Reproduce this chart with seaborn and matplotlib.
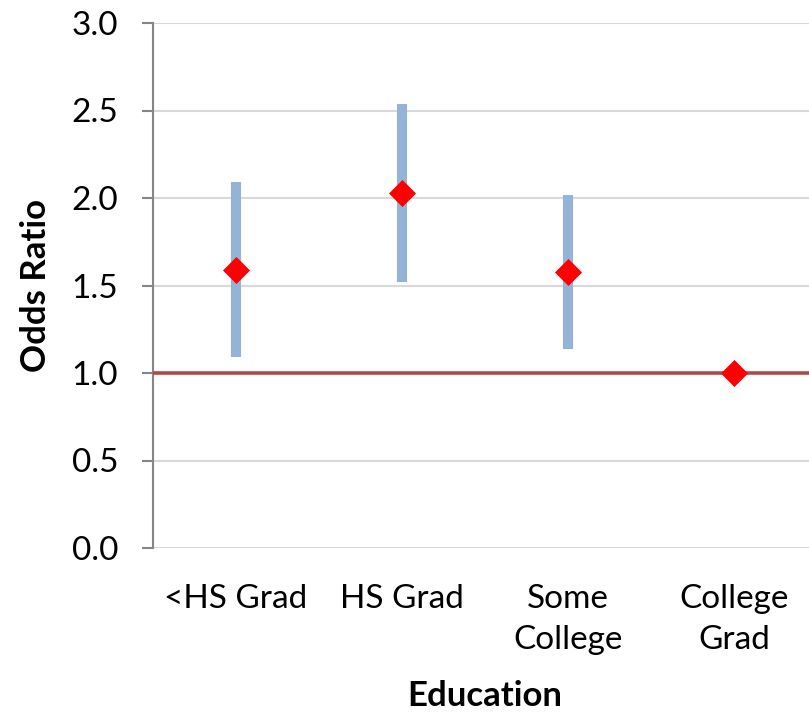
import matplotlib
matplotlib.use("Agg")
import matplotlib.pyplot as plt
import seaborn as sns
import pandas as pd

# Odds ratios by education level, with 95% confidence limits
categories = ["<HS Grad", "HS Grad", "Some\nCollege", "College\nGrad"]
odds_ratio = [1.59, 2.03, 1.58, 1.00]
ci_lower = [1.09, 1.52, 1.14, 1.00]
ci_upper = [2.09, 2.54, 2.02, 1.00]
y_ticks = [0.0, 0.5, 1.0, 1.5, 2.0, 2.5, 3.0]

df = pd.DataFrame({"Education": categories, "OR": odds_ratio,
                   "lo": ci_lower, "hi": ci_upper})

sns.set_theme(style="white")
plt.rcParams["font.family"] = ["Lato", "DejaVu Sans"]

fig = plt.figure(figsize=(8.09, 7.12), dpi=100)
W, H = 809, 712
ax = fig.add_axes([153 / W, (H - 548) / H, 664 / W, (548 - 23) / H])

# confidence interval bars (reference category has none)
xpos = list(range(len(categories)))
bars = df[df["hi"] > df["lo"]]
ax.vlines([xpos[i] for i in bars.index], bars["lo"], bars["hi"],
          colors="#95B3D7", linewidth=7.3, capstyle="butt", zorder=2)

# reference line at OR = 1
ax.axhline(1.0, color="#B0494A", linewidth=2.6, zorder=3)

sns.scatterplot(data=df, x="Education", y="OR", marker="D", s=190,
                color="#FF0000", linewidth=0, ax=ax, zorder=4)

ax.set_xlim(-0.5, len(categories) - 0.5)
ax.set_ylim(0, 3.0)
ax.set_yticks(y_ticks)
ax.set_yticklabels([f"{v:.1f}" for v in y_ticks])
ax.yaxis.grid(True, color="#D9D9D9", linewidth=1.5)
ax.set_axisbelow(True)

for side in ["top", "right", "bottom"]:
    ax.spines[side].set_visible(False)
ax.spines["left"].set_color("#868686")
ax.spines["left"].set_linewidth(1.5)

ax.tick_params(axis="y", which="major", left=True, length=8, width=1.5,
               color="#868686", pad=17, labelsize=24, labelcolor="black")
ax.tick_params(axis="x", bottom=False, pad=20, labelsize=24, labelcolor="black")
for lbl in ax.get_xticklabels():
    lbl.set_linespacing(1.45)
    lbl.set_verticalalignment("top")

ax.set_xlabel("Education", fontsize=25, fontweight="bold", color="black",
              labelpad=18)
ax.set_ylabel("Odds Ratio", fontsize=25, fontweight="bold", color="black",
              labelpad=14)

fig.savefig("out.png", dpi=100)
